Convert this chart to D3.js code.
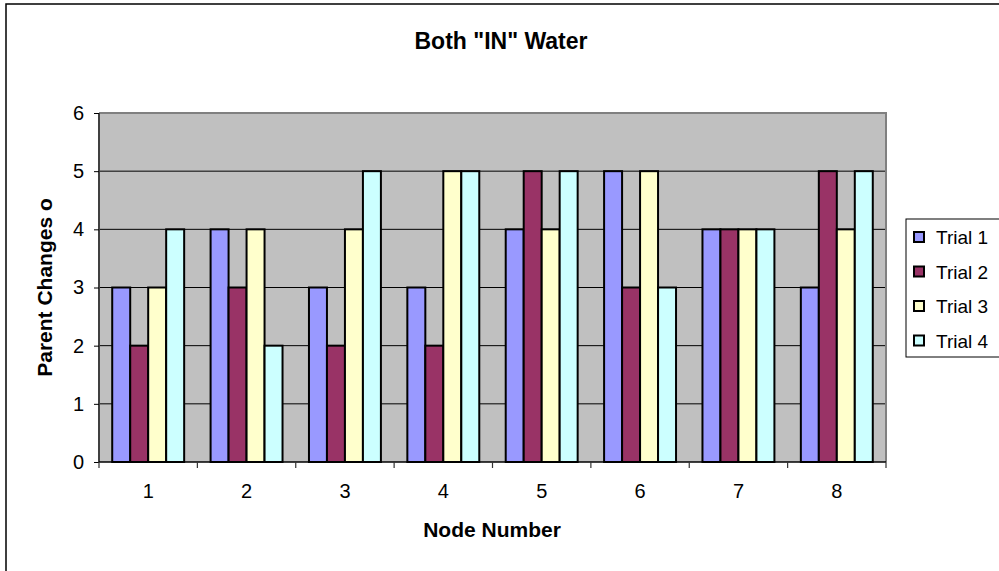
<!DOCTYPE html>
<html><head><meta charset="utf-8">
<script src="https://cdn.jsdelivr.net/npm/d3@7"></script>
<style>body{margin:0;background:#fff}svg{display:block}text{font-family:Arial,"Liberation Sans",sans-serif}</style>
</head><body><svg id="c" width="999" height="571"></svg>
<script>
const nodes = ["1","2","3","4","5","6","7","8"];
const seriesNames = ["Trial 1","Trial 2","Trial 3","Trial 4"];
const trial1 = [3,4,3,3,4,5,4,3];
const trial2 = [2,3,2,2,5,3,4,5];
const trial3 = [3,4,4,5,4,5,4,4];
const trial4 = [4,2,5,5,5,3,4,5];
const yTicks = [0,1,2,3,4,5,6];
const colors = ["#9999FF","#993366","#FFFFCC","#CCFFFF"];
const series = [trial1,trial2,trial3,trial4];

const svg = d3.select("#c");
const L=99, R=886, T=113, B=462;
svg.append("rect").attr("x",6).attr("y",4).attr("width",1200).attr("height",800)
  .attr("fill","#fff").attr("stroke","#000").attr("stroke-width",1.5);

const x = d3.scaleBand().domain(nodes).range([L,R]).paddingInner(0).paddingOuter(0);
const inner = d3.scaleBand().domain(seriesNames).range([0,x.bandwidth()]).paddingInner(0).paddingOuter(0.75*0.98);
const y = d3.scaleLinear().domain([0,6]).range([B,T]);

svg.append("rect").attr("x",L).attr("y",T).attr("width",R-L).attr("height",B-T).attr("fill","#C0C0C0");
svg.append("g").selectAll("line").data(yTicks.filter(v=>v>0&&v<6)).join("line")
  .attr("x1",L).attr("x2",R).attr("y1",d=>y(d)).attr("y2",d=>y(d)).attr("stroke","#000").attr("stroke-width",1);
svg.append("path").attr("d",`M${L},${T}H${R}V${B}`).attr("fill","none").attr("stroke","#808080").attr("stroke-width",2);

const g = svg.append("g");
series.forEach((s,i)=>{
  g.append("g").selectAll("rect").data(s).join("rect")
   .attr("x",(d,j)=>x(nodes[j])+inner(seriesNames[i]))
   .attr("width",inner.bandwidth())
   .attr("y",d=>y(d)).attr("height",d=>B-y(d))
   .attr("fill",colors[i]).attr("stroke","#000").attr("stroke-width",2);
});

const ya = svg.append("g").attr("transform",`translate(${L},0)`)
  .call(d3.axisLeft(y).tickValues(yTicks).tickSize(5).tickPadding(10).tickFormat(d3.format("d")));
ya.select(".domain").attr("stroke","#404040").attr("stroke-width",2).attr("d",`M0,${T}V${B}`);
ya.selectAll(".tick line").attr("stroke","#000");
ya.selectAll("text").attr("font-size",20).attr("fill","#000").attr("font-family","Arial, 'Liberation Sans', sans-serif");

const xa = svg.append("g").attr("transform",`translate(0,${B})`)
  .call(d3.axisBottom(x).tickSize(0).tickPadding(22));
xa.select(".domain").attr("stroke","#000").attr("stroke-width",1.5).attr("d",`M${L},0H${R}`);
xa.selectAll("text").attr("font-size",20).attr("fill","#000").attr("font-family","Arial, 'Liberation Sans', sans-serif");
const bounds = nodes.map(n=>x(n)).concat([R]);
xa.append("g").selectAll("line").data(bounds).join("line")
  .attr("x1",d=>d).attr("x2",d=>d).attr("y1",0).attr("y2",6).attr("stroke","#333").attr("stroke-width",1.2);

svg.append("text").attr("x",501).attr("y",49).attr("text-anchor","middle")
  .attr("font-size",23).attr("font-weight","bold").text('Both "IN" Water');
svg.append("text").attr("x",492).attr("y",537).attr("text-anchor","middle")
  .attr("font-size",21).attr("font-weight","bold").text("Node Number");
svg.append("text").attr("transform",`translate(52,${(T+B)/2}) rotate(-90)`).attr("text-anchor","middle")
  .attr("font-size",21).attr("font-weight","bold").text("Parent Changes o");

const lg = svg.append("g");
lg.append("rect").attr("x",906).attr("y",219).attr("width",120).attr("height",138)
  .attr("fill","#fff").attr("stroke","#000").attr("stroke-width",1);
const li = lg.selectAll("g").data(seriesNames).join("g")
  .attr("transform",(d,i)=>`translate(914,${237+i*34.5})`);
li.append("rect").attr("x",0).attr("y",-5).attr("width",10).attr("height",10)
  .attr("fill",(d,i)=>colors[i]).attr("stroke","#000").attr("stroke-width",2);
li.append("text").attr("x",22).attr("y",7).attr("font-size",19).text(d=>d);
</script></body></html>
